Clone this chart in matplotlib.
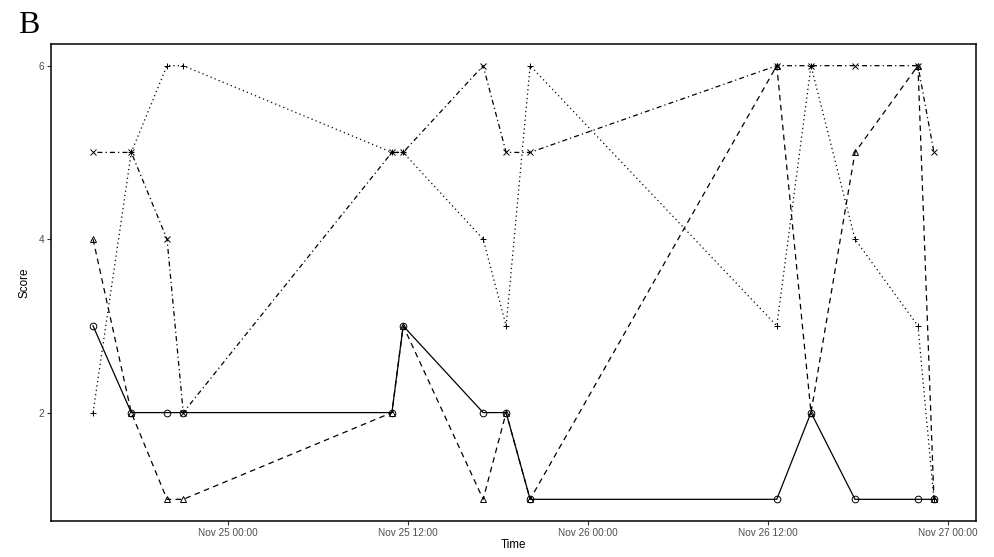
import matplotlib
matplotlib.use("Agg")
import matplotlib.pyplot as plt
import matplotlib.dates as mdates
import numpy as np
import pandas as pd

plt.rcParams['font.family'] = ['Liberation Sans', 'DejaVu Sans']

times = pd.to_datetime([
    "2020-11-24 14:59", "2020-11-24 17:32", "2020-11-24 19:55", "2020-11-24 21:00",
    "2020-11-25 10:55", "2020-11-25 11:40", "2020-11-25 17:00", "2020-11-25 18:32",
    "2020-11-25 20:08", "2020-11-26 12:35", "2020-11-26 14:52", "2020-11-26 17:48",
    "2020-11-26 22:00", "2020-11-26 23:04",
])
score_circle = [3, 2, 2, 2, 2, 3, 2, 2, 1, 1, 2, 1, 1, 1]
score_triangle = [4, 2, 1, 1, 2, 3, 1, 2, 1, 6, 2, 5, 6, 1]
score_plus = [2, 5, 6, 6, 5, 5, 4, 3, 6, 3, 6, 4, 3, 1]
score_cross = [5, 5, 4, 2, 5, 5, 6, 5, 5, 6, 6, 6, 6, 5]

tick_times = pd.to_datetime(["2020-11-25 00:00", "2020-11-25 12:00", "2020-11-26 00:00",
                             "2020-11-26 12:00", "2020-11-27 00:00"])

fig = plt.figure(figsize=(9.95, 5.57), dpi=100)
ax = fig.add_axes([51/995, 1-521/557, (976-51)/995, (521-44)/557])

lw = 0.9
styles = [
    (score_circle, "o", (None, None)),
    (score_triangle, "^", (4.5, 3.5)),
    (score_plus, "+", (1, 2.5)),
    (score_cross, "x", (1, 2.5, 4, 2.5)),
]
x = mdates.date2num(times)
for vals, mk, dash in styles:
    line, = ax.plot(x, vals, color="black", lw=lw, marker=mk, markersize=4.8,
                    markerfacecolor="none", markeredgecolor="black", markeredgewidth=0.7)
    if dash[0] is not None:
        line.set_dashes(dash)

# ggplot-style 5% expansion
x0, x1 = x.min(), x.max()
pad = (x1 - x0) * 0.05
ax.set_xlim(x0 - pad, x1 + pad)
ax.set_ylim(0.75, 6.25)

ax.set_xticks(mdates.date2num(tick_times))
ax.xaxis.set_major_formatter(mdates.DateFormatter("%b %d %H:%M"))
ax.set_yticks([2, 4, 6])
ax.tick_params(length=3, width=0.8, color="#333333", labelcolor="#4D4D4D", labelsize=7.2, pad=2)

for s in ax.spines.values():
    s.set_color("black")
    s.set_linewidth(1.1)

ax.set_xlabel("Time", fontsize=8.4, labelpad=1)
ax.set_ylabel("Score", fontsize=8.4, labelpad=6)

fig.text(18/995, 1-33/557, "B", family="Liberation Serif", fontsize=23, va="baseline")

fig.savefig("out.png", dpi=100)
